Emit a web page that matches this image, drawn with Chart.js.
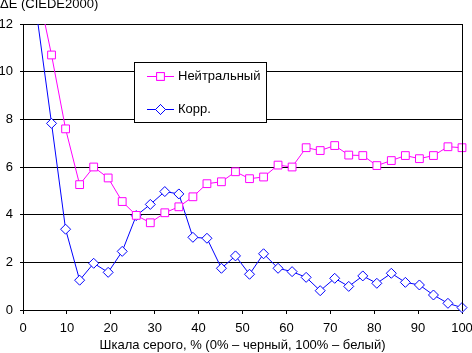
<!DOCTYPE html>
<html>
<head>
<meta charset="utf-8">
<script src="https://cdn.jsdelivr.net/npm/chart.js@4/dist/chart.umd.min.js"></script>
<style>
  html, body { margin: 0; padding: 0; background: #ffffff; }
  #wrap { width: 472px; height: 353px; }
</style>
</head>
<body>
<div id="wrap"><canvas id="c" width="472" height="353"></canvas></div>
<script>
// Grey level, % (x positions of the measured points)
const grayLevels = [0, 3.2, 6.5, 9.7, 12.9, 16.1, 19.4, 22.6, 25.8, 29.0, 32.3, 35.5, 38.7, 41.9, 45.2, 48.4,
  51.6, 54.8, 58.1, 61.3, 64.5, 67.7, 71.0, 74.2, 77.4, 80.6, 83.9, 87.1, 90.3, 93.5, 96.8, 100];
// ΔE for "Нейтральный"
const neutralValues = [16, 13.6, 10.7, 7.6, 5.26, 6.0, 5.54, 4.55, 3.97, 3.66, 4.08, 4.33, 4.75, 5.30, 5.38, 5.80,
  5.51, 5.58, 6.08, 6.0, 6.81, 6.69, 6.90, 6.50, 6.48, 6.06, 6.27, 6.48, 6.35, 6.48, 6.85, 6.81];
// ΔE for "Корр."
const corrValues = [20, 12.3, 7.83, 3.39, 1.25, 1.96, 1.58, 2.46, 3.96, 4.43, 4.97, 4.87, 3.05, 3.01, 1.75, 2.27,
  1.50, 2.36, 1.75, 1.61, 1.37, 0.81, 1.33, 0.99, 1.43, 1.12, 1.54, 1.16, 1.05, 0.63, 0.28, 0.10];
const seriesNames = ['Нейтральный', 'Корр.'];
const xTicks = [0, 10, 20, 30, 40, 50, 60, 70, 80, 90, 100];
const yTicks = [0, 2, 4, 6, 8, 10, 12];
const chartTitle = 'ΔE (CIEDE2000)';
const xTitle = 'Шкала серого, % (0% – черный, 100% – белый)';

const FONT = 'Arial, "Liberation Sans", sans-serif';

function pts(vals) { return grayLevels.map((x, i) => ({ x: x, y: vals[i] })); }

const frameAndLegend = {
  id: 'frameAndLegend',
  afterDatasetsDraw(chart) {
    const ctx = chart.ctx;
    const a = chart.chartArea;
    ctx.save();
    // right frame line
    ctx.strokeStyle = '#000';
    ctx.lineWidth = 1;
    ctx.beginPath();
    const rx = Math.round(a.right) + 0.5;
    ctx.moveTo(rx, Math.round(a.top));
    ctx.lineTo(rx, Math.round(a.bottom) + 1);
    ctx.stroke();
    // legend box
    const bx = 134.5, by = 62.5, bw = 132, bh = 60;
    ctx.fillStyle = '#fff';
    ctx.fillRect(bx, by, bw, bh);
    ctx.strokeRect(bx, by, bw, bh);
    const rows = [76.5, 109.5];
    chart.data.datasets.forEach((ds, i) => {
      const y = rows[i];
      ctx.strokeStyle = ds.borderColor;
      ctx.lineWidth = 1;
      ctx.beginPath();
      ctx.moveTo(147, y);
      ctx.lineTo(174, y);
      ctx.stroke();
      Chart.helpers.drawPoint(ctx, {
        pointStyle: ds.pointStyle, radius: ds.pointRadius, borderWidth: 1, rotation: 0
      }, 160.5, y);
      ctx.fillStyle = '#fff';
      ctx.fill();
      ctx.strokeStyle = ds.borderColor;
      ctx.stroke();
      ctx.fillStyle = '#000';
      ctx.font = '13px ' + FONT;
      ctx.textAlign = 'left';
      ctx.textBaseline = 'middle';
      ctx.fillText(ds.label, 178, y);
    });
    ctx.restore();
  }
};

new Chart(document.getElementById('c'), {
  type: 'line',
  data: {
    datasets: [
      {
        label: seriesNames[0], data: pts(neutralValues),
        borderColor: '#ff00ff', backgroundColor: '#ffffff', borderWidth: 1,
        pointStyle: 'rect', pointRadius: 5.5, pointBorderWidth: 1,
        pointBackgroundColor: '#ffffff', pointBorderColor: '#ff00ff',
        tension: 0, clip: { left: 0, top: 0, right: 8, bottom: 8 }
      },
      {
        label: seriesNames[1], data: pts(corrValues),
        borderColor: '#0000ff', backgroundColor: '#ffffff', borderWidth: 1,
        pointStyle: 'rectRot', pointRadius: 5, pointBorderWidth: 1,
        pointBackgroundColor: '#ffffff', pointBorderColor: '#0000ff',
        tension: 0, clip: { left: 0, top: 0, right: 8, bottom: 8 }
      }
    ]
  },
  options: {
    responsive: false,
    animation: false,
    layout: { padding: { left: 0, right: 10, top: 0, bottom: 0 } },
    plugins: {
      legend: { display: false },
      tooltip: { enabled: false },
      title: {
        display: true, text: chartTitle, align: 'start', color: '#000',
        font: { family: FONT, size: 13, weight: 'normal', lineHeight: 0.7 },
        padding: { top: 0, bottom: 14.9 }
      }
    },
    scales: {
      x: {
        type: 'linear', min: 0, max: 100,
        afterBuildTicks: s => { s.ticks = xTicks.map(v => ({ value: v })); },
        afterFit: s => { s.height = 43; s.paddingLeft = 0; s.paddingRight = 0; },
        grid: { drawOnChartArea: false, drawTicks: true, tickLength: 4, color: '#000', lineWidth: 1 },
        border: { display: true, color: '#000', width: 1 },
        ticks: { color: '#000', font: { family: FONT, size: 13 }, padding: 7, maxRotation: 0, autoSkip: false },
        title: { display: true, text: xTitle, color: '#000', font: { family: FONT, size: 13 }, padding: { top: 0, bottom: 0 } }
      },
      y: {
        type: 'linear', min: 0, max: 12,
        afterBuildTicks: s => { s.ticks = yTicks.map(v => ({ value: v })); },
        afterFit: s => { s.width = 23; s.paddingTop = 0; s.paddingBottom = 0; },
        grid: { drawOnChartArea: true, drawTicks: true, tickLength: 3, color: '#000', lineWidth: 1 },
        border: { display: true, color: '#000', width: 1 },
        ticks: { color: '#000', font: { family: FONT, size: 13 }, padding: 7 }
      }
    }
  },
  plugins: [frameAndLegend]
});
</script>
</body>
</html>
